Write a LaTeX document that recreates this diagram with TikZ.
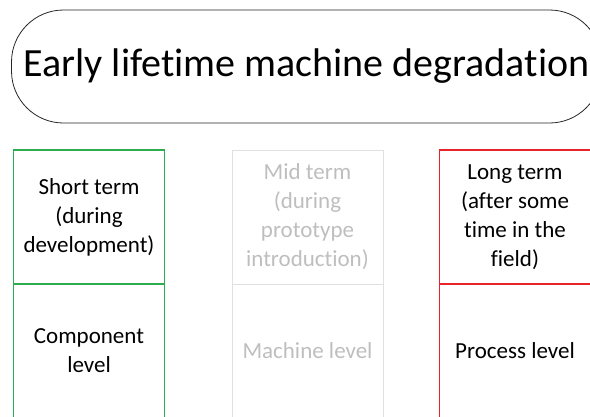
\documentclass[tikz,border=0pt]{standalone}
\usepackage{fontspec}
\setmainfont{Carlito}[Ligatures={NoCommon}]
\usetikzlibrary{positioning}
\definecolor{tgreen}{RGB}{46,172,82}
\definecolor{tred}{RGB}{232,36,40}
\definecolor{tgreyline}{RGB}{224,224,224}
\definecolor{tgreytext}{RGB}{190,190,190}
\begin{document}
\begin{tikzpicture}[x=1pt,y=-1pt,
  cell/.style={draw, minimum width=151pt, minimum height=134pt, inner sep=0pt, align=center,
    font=\fontsize{23}{29}\selectfont},
  greencell/.style={cell, draw=tgreen, line width=1.6pt, text=black},
  greycell/.style={cell, draw=tgreyline, line width=0.9pt, text=tgreytext},
  redcell/.style={cell, draw=tred, line width=1.8pt, text=black},
  titlebox/.style={draw=black!85, line width=0.8pt, rounded corners=52pt, minimum width=590pt,
    minimum height=113pt, inner sep=0pt, font=\fontsize{40}{48}\selectfont}]
\useasboundingbox (0,0) rectangle (590,416);
\clip (0,0) rectangle (590,416);
\node[titlebox] (title) at (306.5,66.5) {Early lifetime machine degradation};
\node[greencell] (g1) at (89,217) {Short term\\(during\\development)};
\node[greencell] (g2) at (89,351) {Component\\level};
\node[greycell] (m1) at (307.5,217) {Mid term\\(during\\prototype\\introduction)};
\node[greycell] (m2) at (307.5,351) {Machine level};
\node[redcell] (r1) at (515,217) {Long term\\(after some\\time in the\\field)};
\node[redcell] (r2) at (515,351) {Process level};
\end{tikzpicture}
\end{document}
